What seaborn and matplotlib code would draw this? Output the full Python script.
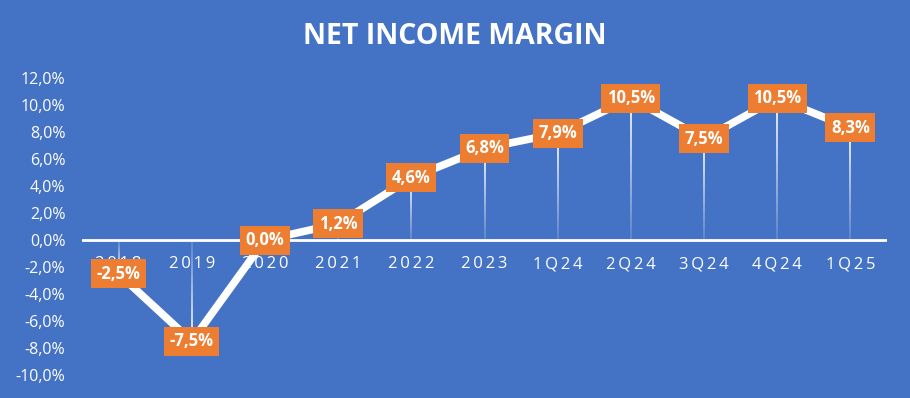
import numpy as np
import pandas as pd
import matplotlib
matplotlib.use("Agg")
import matplotlib.pyplot as plt
import seaborn as sns

periods = ["2018", "2019", "2020", "2021", "2022", "2023", "1Q24", "2Q24", "3Q24", "4Q24", "1Q25"]
margin = [-2.5, -7.5, 0.0, 1.2, 4.6, 6.8, 7.9, 10.5, 7.5, 10.5, 8.3]
yticks = [-10, -8, -6, -4, -2, 0, 2, 4, 6, 8, 10, 12]

BG = "#4472C4"
ORANGE = "#ED7D31"

sns.set_theme(style="white")
plt.rcParams["font.family"] = ["Open Sans", "DejaVu Sans"]

df = pd.DataFrame({"period": periods, "margin": margin})
df["x"] = np.arange(len(df))

fig = plt.figure(figsize=(9.1, 3.98), dpi=100, facecolor=BG)
ax = fig.add_axes([82 / 910, 1 - 375 / 398, 805 / 910, (375 - 78) / 398])
ax.set_facecolor(BG)

# drop lines from the zero axis to each point, fading away from the point
n_seg = 30
for x, v in zip(df["x"], df["margin"]):
    if v == 0:
        continue
    edges = np.linspace(0, v, n_seg + 1)
    for i in range(n_seg):
        a = 0.15 + 0.8 * (i / n_seg)
        ax.plot([x, x], [edges[i], edges[i + 1]], color="white", lw=1.4,
                alpha=a, solid_capstyle="butt", zorder=2)

ax.axhline(0, color="white", lw=2, zorder=3)

sns.lineplot(data=df, x="x", y="margin", ax=ax, color="white", lw=5.5,
             zorder=4, legend=False)

for x, v in zip(df["x"], df["margin"]):
    label = f"{v:.1f}%".replace(".", ",")
    ax.text(x, v, label, ha="center", va="center", color="white",
            fontsize=12, fontweight="bold", zorder=10, clip_on=False,
            bbox=dict(boxstyle="square,pad=0.33", fc=ORANGE, ec="none"))

ax.set_xlim(-0.5, len(df) - 0.5)
ax.set_ylim(-10, 12)
ax.set_yticks(yticks)
ax.set_yticklabels([f"{t:.1f}%".replace(".", ",") for t in yticks],
                   color="white", fontsize=11.5)
ax.set_xticks(df["x"])
ax.set_xticklabels(["\u2009".join(p) for p in df["period"]], color="white", fontsize=12)
ax.tick_params(axis="x", length=0)
ax.tick_params(axis="y", length=0, pad=12)
# x labels sit just under the zero line
for lab in ax.get_xticklabels():
    lab.set_transform(ax.get_xaxis_transform())
    lab.set_y((0 - (-10)) / 22 - 0.055)
    lab.set_va("top")
    lab.set_zorder(5)
ax.set_xlabel("")
ax.set_ylabel("")
for s in ax.spines.values():
    s.set_visible(False)

fig.text(0.5, 1 - 37 / 398, "NET INCOME MARGIN", ha="center", va="center",
         color="white", fontsize=20.5, fontweight="bold")

fig.savefig("out.png", dpi=100, facecolor=BG)
